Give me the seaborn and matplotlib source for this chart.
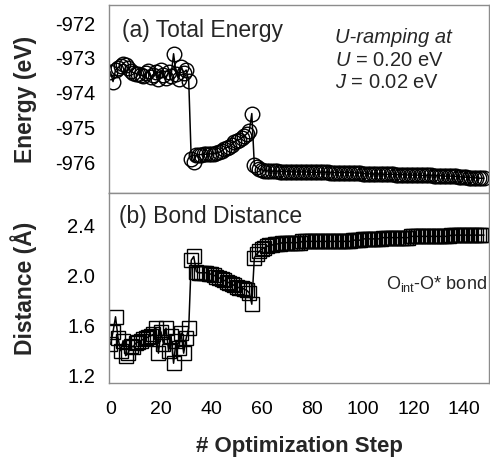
import numpy as np
import pandas as pd
import matplotlib
matplotlib.use("Agg")
import matplotlib.pyplot as plt
import seaborn as sns

sns.set_theme(style="white")
plt.rcParams['font.family'] = ['Liberation Sans', 'DejaVu Sans']
plt.rcParams['mathtext.fontset'] = 'custom'
plt.rcParams['mathtext.rm'] = 'Liberation Sans'
plt.rcParams['mathtext.it'] = 'Liberation Sans:italic'

# ---- data ----
energy = [
    -973.40, -973.68, -973.35, -973.28, -973.22, -973.18, -973.20, -973.30, -973.38, -973.42,
    -973.45, -973.47, -973.50, -973.52, -973.44, -973.38, -973.55, -973.48, -973.40, -973.62,
    -973.35, -973.50, -973.58, -973.40, -973.52, -972.88, -973.45, -973.60, -973.25, -973.42,
    -973.35, -973.65, -975.92, -975.98, -975.80, -975.78, -975.78, -975.77, -975.77, -975.76,
    -975.76, -975.75, -975.74, -975.72, -975.68, -975.62, -975.58, -975.55, -975.50, -975.42,
    -975.38, -975.35, -975.30, -975.25, -975.18, -975.10, -974.60, -976.08, -976.15, -976.20,
    -976.22, -976.24, -976.25, -976.25, -976.26, -976.26, -976.26, -976.27, -976.27, -976.27,
    -976.27, -976.27, -976.28, -976.28, -976.28, -976.28, -976.28, -976.28, -976.28, -976.29,
    -976.29, -976.29, -976.29, -976.29, -976.29, -976.29, -976.29, -976.30, -976.30, -976.30,
    -976.30, -976.30, -976.30, -976.30, -976.30, -976.30, -976.30, -976.31, -976.31, -976.31,
    -976.33, -976.33, -976.33, -976.34, -976.34, -976.34, -976.34, -976.34, -976.35, -976.35,
    -976.35, -976.35, -976.35, -976.36, -976.36, -976.36, -976.36, -976.36, -976.37, -976.37,
    -976.37, -976.37, -976.37, -976.38, -976.38, -976.38, -976.38, -976.38, -976.39, -976.39,
    -976.39, -976.39, -976.40, -976.40, -976.40, -976.40, -976.41, -976.41, -976.42, -976.42,
    -976.43, -976.43, -976.44, -976.44, -976.45, -976.45, -976.46, -976.46, -976.46,
]
distance = [
    1.45, 1.55, 1.67, 1.50, 1.40, 1.48, 1.36, 1.38, 1.44, 1.43,
    1.46, 1.47, 1.48, 1.49, 1.50, 1.51, 1.52, 1.53, 1.58, 1.38,
    1.55, 1.45, 1.58, 1.40, 1.52, 1.30, 1.48, 1.42, 1.54, 1.38,
    1.50, 1.58, 2.12, 2.15, 2.03, 2.02, 2.02, 2.02, 2.02, 2.01,
    2.01, 2.00, 1.99, 1.98, 1.97, 1.96, 1.95, 1.94, 1.93, 1.92,
    1.91, 1.90, 1.90, 1.89, 1.88, 1.86, 1.77, 2.14, 2.17, 2.19,
    2.21, 2.22, 2.23, 2.24, 2.24, 2.25, 2.25, 2.25, 2.26, 2.26,
    2.26, 2.26, 2.26, 2.26, 2.26, 2.26, 2.27, 2.27, 2.27, 2.27,
    2.27, 2.27, 2.27, 2.27, 2.27, 2.27, 2.27, 2.27, 2.27, 2.27,
    2.27, 2.27, 2.27, 2.27, 2.27, 2.27, 2.28, 2.28, 2.28, 2.28,
    2.29, 2.29, 2.29, 2.29, 2.29, 2.29, 2.29, 2.29, 2.30, 2.30,
    2.30, 2.30, 2.30, 2.30, 2.30, 2.30, 2.30, 2.30, 2.30, 2.31,
    2.31, 2.31, 2.31, 2.31, 2.31, 2.31, 2.31, 2.31, 2.31, 2.31,
    2.31, 2.31, 2.31, 2.31, 2.31, 2.32, 2.32, 2.32, 2.32, 2.32,
    2.32, 2.32, 2.32, 2.32, 2.32, 2.32, 2.32, 2.32, 2.32,
]
steps = list(range(len(energy)))

energy_ticks = [-976, -975, -974, -973, -972]
distance_ticks = [1.2, 1.6, 2.0, 2.4]
step_ticks = [0, 20, 40, 60, 80, 100, 120, 140]

df = pd.DataFrame({"step": steps, "energy": energy, "distance": distance})

fig = plt.figure(figsize=(4.9, 4.61), dpi=100)
L, R = 0.2224, 0.998
ax1 = fig.add_axes([L, 0.581, R - L, 0.989 - 0.581])
ax2 = fig.add_axes([L, 0.169, R - L, 0.581 - 0.169])

sns.lineplot(data=df, x="step", y="energy", ax=ax1, color="black", lw=1.1,
             marker="o", markersize=10.5, markerfacecolor="none",
             markeredgecolor="black", markeredgewidth=1.0)
sns.lineplot(data=df, x="step", y="distance", ax=ax2, color="black", lw=1.1,
             marker="s", markersize=9.5, markerfacecolor="none",
             markeredgecolor="black", markeredgewidth=1.0)

spine_col = "#8c8c8c"
for ax in (ax1, ax2):
    ax.set_xlim(-0.6, 150)
    for s in ax.spines.values():
        s.set_color(spine_col)
        s.set_linewidth(1.0)
    ax.tick_params(axis="both", direction="out", length=4, width=0.9,
                   color="#555555", labelsize=14.5, labelcolor="black", pad=6)
    ax.set_xlabel("")
    ax.set_ylabel("")

ax1.set_ylim(-976.89, -971.48)
ax1.set_yticks(energy_ticks)
ax1.set_yticklabels([f"{t:d}" for t in energy_ticks])
ax1.set_xticks([])
ax1.tick_params(axis="x", length=0)

ax2.set_ylim(1.142, 2.654)
ax2.set_yticks(distance_ticks)
ax2.set_yticklabels([f"{t:.1f}" for t in distance_ticks])
ax2.set_xticks(step_ticks)
ax2.set_xticklabels([str(t) for t in step_ticks])
ax2.tick_params(axis="x", pad=9, labelsize=14)

ax1.set_ylabel("Energy (eV)", fontsize=16.5, fontweight="bold")
ax2.set_ylabel("Distance (\u00c5)", fontsize=16.5, fontweight="bold")
ax1.yaxis.set_label_coords(-0.19, 0.5)
ax2.yaxis.set_label_coords(-0.19, 0.5)
ax2.set_xlabel("# Optimization Step", fontsize=16, fontweight="bold", labelpad=13)

ax1.text(0.034, 0.865, "(a) Total Energy", transform=ax1.transAxes,
         fontsize=16.5, ha="left", va="center")
ax2.text(0.026, 0.875, "(b) Bond Distance", transform=ax2.transAxes,
         fontsize=16.5, ha="left", va="center")

ax1.text(0.595, 0.83, "U-ramping at", transform=ax1.transAxes,
         fontsize=14.5, style="italic", ha="left", va="center")
ax1.text(0.595, 0.707, r"$\it{U}$ = 0.20 eV", transform=ax1.transAxes,
         fontsize=14.5, ha="left", va="center")
ax1.text(0.595, 0.59, r"$\it{J}$ = 0.02 eV", transform=ax1.transAxes,
         fontsize=14.5, ha="left", va="center")

ax2.text(0.73, 0.52, r"O$_{\mathregular{int}}$-O* bond", transform=ax2.transAxes,
         fontsize=13, ha="left", va="center")

fig.savefig("out.png", dpi=100)
